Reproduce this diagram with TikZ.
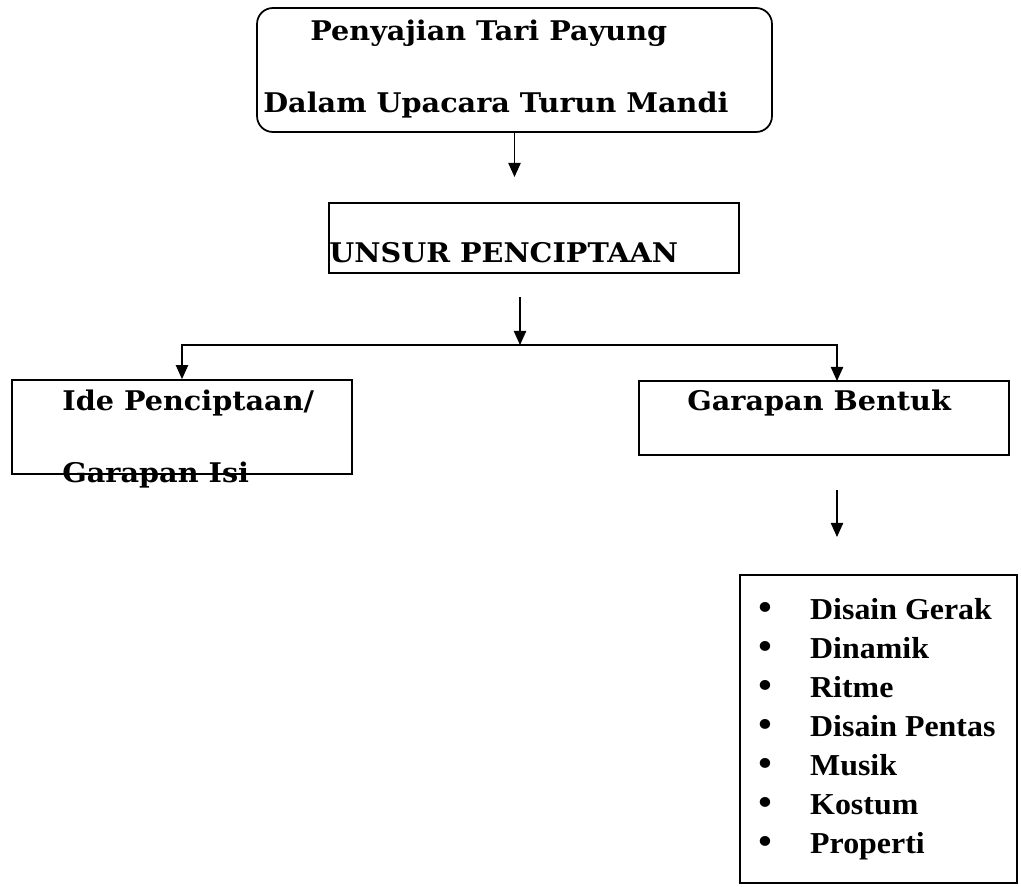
\documentclass[tikz,border=0pt]{standalone}
\usepackage{fontspec}
\setmainfont{Liberation Serif}
\newfontfamily\headfont[FakeStretch=1.06]{DejaVu Serif}
\newfontfamily\listfont[FakeStretch=1.05]{Liberation Serif}
\usetikzlibrary{arrows.meta,positioning}

\begin{document}
\begin{tikzpicture}[x=0.02cm,y=-0.02cm,
    box/.style={draw,line width=1pt,inner sep=0pt},
    head/.style={font=\headfont\bfseries\fontsize{15.4}{18}\selectfont,inner sep=0pt,anchor=base west},
    arr/.style={line width=0.8pt,-{Triangle[length=8pt,width=7pt]}}]
    \useasboundingbox (0,0) rectangle (1021,886);
    % boxes
    \node[box,rounded corners=9pt,minimum width=10.3cm,minimum height=2.48cm] (top) at (514.5,70) {};
    \node[box,minimum width=8.2cm,minimum height=1.4cm] (unsur) at (534,238) {};
    \node[box,minimum width=6.8cm,minimum height=1.88cm] (ide) at (182,427) {};
    \node[box,minimum width=7.4cm,minimum height=1.48cm] (bentuk) at (824,418) {};
    \node[box,minimum width=5.54cm,minimum height=6.16cm] (items) at (878.5,729) {};
    % texts
    \node[head] (t1) at (310,40) {Penyajian Tari Payung};
    \node[head] (t2) at (263,112) {Dalam Upacara Turun Mandi};
    \node[head] (t3) at (329,262) {UNSUR PENCIPTAAN};
    \node[head] (t4) at (62,410) {Ide Penciptaan/};
    \node[head] (t5) at (62,482) {Garapan Isi};
    \node[head] (t6) at (687,410) {Garapan Bentuk};
    \node[inner sep=0pt,anchor=base west,font=\listfont\bfseries\fontsize{17.3}{22.2}\selectfont] (list) at (758,619)
      {\begin{tabular}[t]{@{}l@{}}
        \makebox[29.5pt][l]{\scalebox{1.2}{\textbullet}}Disain Gerak\\
        \makebox[29.5pt][l]{\scalebox{1.2}{\textbullet}}Dinamik\\
        \makebox[29.5pt][l]{\scalebox{1.2}{\textbullet}}Ritme\\
        \makebox[29.5pt][l]{\scalebox{1.2}{\textbullet}}Disain Pentas\\
        \makebox[29.5pt][l]{\scalebox{1.2}{\textbullet}}Musik\\
        \makebox[29.5pt][l]{\scalebox{1.2}{\textbullet}}Kostum\\
        \makebox[29.5pt][l]{\scalebox{1.2}{\textbullet}}Properti
      \end{tabular}};
    % connectors
    \coordinate (a1) at (514.5,177);
    \coordinate (a2) at (520,297);
    \coordinate (split) at (520,345);
    \coordinate (bn) at (837,381);
    \coordinate (a3) at (837,490);
    \coordinate (a4) at (837,537);
    \draw[arr] (top.south) -- (a1);
    \draw[arr] (a2) -- (split);
    \draw[arr] (split) -| (ide.north);
    \draw[arr] (split) -| (bn);
    \draw[arr] (a3) -- (a4);
  \end{tikzpicture}
\end{document}
